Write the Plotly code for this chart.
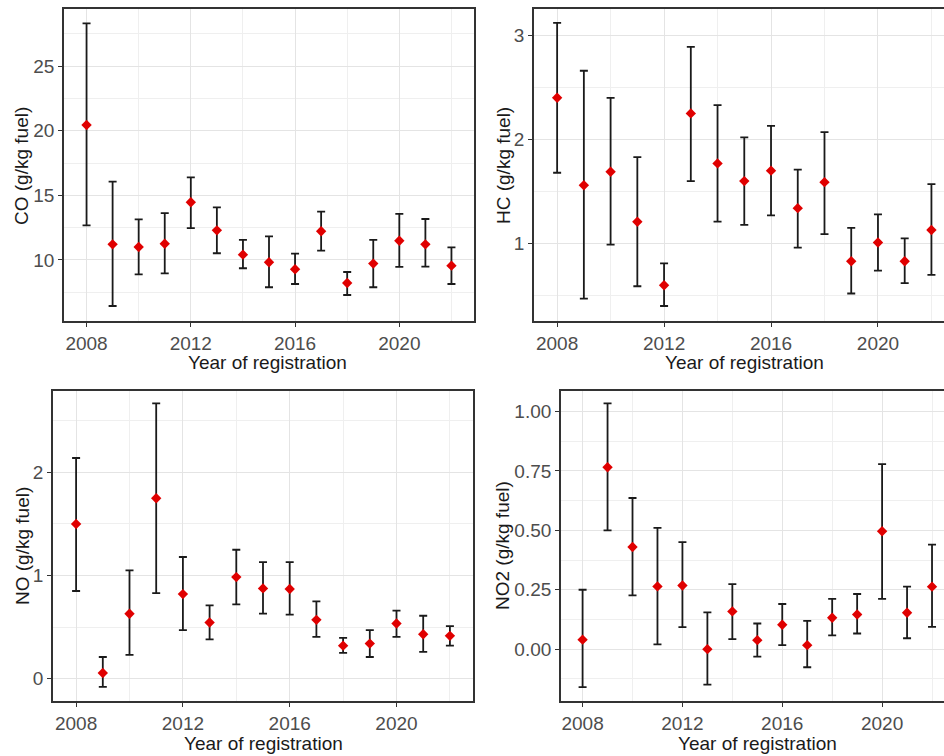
import plotly.graph_objects as go

years = list(range(2008, 2023))

co_mean = [20.44, 11.21, 11.00, 11.26, 14.46, 12.29, 10.41, 9.82, 9.28, 12.22, 8.22, 9.72, 11.49, 11.21, 9.56]
co_up = [28.30, 16.06, 13.14, 13.63, 16.39, 14.07, 11.55, 11.83, 10.49, 13.74, 9.07, 11.55, 13.56, 13.17, 10.98]
co_lo = [12.68, 6.44, 8.89, 8.97, 12.47, 10.52, 9.36, 7.89, 8.14, 10.72, 7.29, 7.89, 9.46, 9.48, 8.14]

hc_mean = [2.40, 1.56, 1.69, 1.21, 0.60, 2.25, 1.77, 1.60, 1.70, 1.34, 1.59, 0.83, 1.01, 0.83, 1.13]
hc_up = [3.12, 2.66, 2.40, 1.83, 0.81, 2.89, 2.33, 2.02, 2.13, 1.71, 2.07, 1.15, 1.28, 1.05, 1.57]
hc_lo = [1.68, 0.47, 0.99, 0.59, 0.40, 1.60, 1.21, 1.18, 1.27, 0.96, 1.09, 0.52, 0.74, 0.62, 0.70]

no_mean = [1.50, 0.055, 0.63, 1.75, 0.82, 0.545, 0.985, 0.875, 0.87, 0.57, 0.32, 0.34, 0.535, 0.43, 0.415]
no_up = [2.14, 0.21, 1.05, 2.67, 1.18, 0.71, 1.25, 1.13, 1.13, 0.75, 0.395, 0.47, 0.66, 0.61, 0.51]
no_lo = [0.85, -0.08, 0.23, 0.83, 0.47, 0.38, 0.72, 0.63, 0.62, 0.405, 0.25, 0.21, 0.405, 0.26, 0.32]

no2_mean = [0.040, 0.765, 0.430, 0.264, 0.268, 0.000, 0.159, 0.038, 0.103, 0.017, 0.132, 0.146, 0.496, 0.153, 0.263]
no2_up = [0.250, 1.034, 0.636, 0.510, 0.450, 0.155, 0.274, 0.108, 0.190, 0.119, 0.212, 0.232, 0.778, 0.263, 0.440]
no2_lo = [-0.160, 0.500, 0.226, 0.020, 0.093, -0.149, 0.042, -0.031, 0.017, -0.076, 0.058, 0.066, 0.212, 0.046, 0.094]

x_title = "Year of registration"
y_titles = ["CO (g/kg fuel)", "HC (g/kg fuel)", "NO (g/kg fuel)", "NO2 (g/kg fuel)"]

W, H = 944, 756
FONT = "Liberation Sans, Arial, sans-serif"

panels = [
    dict(m=co_mean, u=co_up, l=co_lo, xpx=(64, 474), ypx=(9, 321), xr=[2007.135, 2022.865],
         yr=[5.28, 29.41], dt=5, t0=0, fmt="", mdt=2.5, xt=(267, 362), yt=(22, 166)),
    dict(m=hc_mean, u=hc_up, l=hc_lo, xpx=(534, 944), ypx=(9, 321), xr=[2007.135, 2022.47],
         yr=[0.256, 3.253], dt=1, t0=0, fmt="", mdt=0.5, xt=(744, 362), yt=(504, 166)),
    dict(m=no_mean, u=no_up, l=no_lo, xpx=(53, 473), ypx=(391, 701), xr=[2007.135, 2022.865],
         yr=[-0.217, 2.79], dt=1, t0=0, fmt="", mdt=0.5, xt=(263, 743), yt=(22, 546)),
    dict(m=no2_mean, u=no2_up, l=no2_lo, xpx=(561, 944), ypx=(391, 701), xr=[2007.135, 2022.48],
         yr=[-0.218, 1.086], dt=0.25, t0=0, fmt=".2f", mdt=0.125, xt=(757, 743), yt=(502, 546)),
]

fig = go.Figure()
annotations = []
for i, p in enumerate(panels):
    k = "" if i == 0 else str(i + 1)
    xa = "x" + k
    ya = "y" + k
    fig.add_trace(go.Scatter(
        x=years, y=p["m"], mode="markers", xaxis=xa, yaxis=ya,
        marker=dict(symbol="diamond", size=8, color="#E00000", line=dict(width=0)),
        error_y=dict(type="data", symmetric=False,
                     array=[u - m for u, m in zip(p["u"], p["m"])],
                     arrayminus=[m - l for m, l in zip(p["m"], p["l"])],
                     color="#1a1a1a", thickness=1.8, width=4),
        showlegend=False, hoverinfo="skip"))
    right_cut = p["xpx"][1] >= W
    xdom = [p["xpx"][0] / W, min(p["xpx"][1] / W, 1.0)]
    ydom = [(H - p["ypx"][1]) / H, (H - p["ypx"][0]) / H]
    fig.layout["xaxis" + k] = dict(
        domain=xdom, range=p["xr"], anchor=ya, tickmode="linear", tick0=2008, dtick=4,
        showgrid=True, gridcolor="#E4E4E4", gridwidth=1.1,
        minor=dict(tick0=2010, dtick=4, showgrid=True, gridcolor="#EFEFEF", gridwidth=0.9),
        showline=True, linecolor="#333333", linewidth=1.8, mirror=True,
        ticks="outside", ticklen=4, tickwidth=1.2, tickcolor="#333333",
        tickfont=dict(family=FONT, size=19, color="#4D4D4D"), zeroline=False,
        fixedrange=True)
    fig.layout["yaxis" + k] = dict(
        domain=ydom, range=p["yr"], anchor=xa, tickmode="linear", tick0=p["t0"], dtick=p["dt"],
        tickformat=p["fmt"],
        showgrid=True, gridcolor="#E4E4E4", gridwidth=1.1,
        minor=dict(dtick=p["mdt"], showgrid=True, gridcolor="#EFEFEF", gridwidth=0.9),
        showline=True, linecolor="#333333", linewidth=1.8, mirror=(not right_cut),
        ticks="outside", ticklen=4, tickwidth=1.2, tickcolor="#333333",
        tickfont=dict(family=FONT, size=19, color="#4D4D4D"), zeroline=False,
        fixedrange=True)
    annotations.append(dict(text=x_title, xref="paper", yref="paper",
                            x=p["xt"][0] / W, y=(H - p["xt"][1]) / H,
                            xanchor="center", yanchor="middle", showarrow=False,
                            font=dict(family=FONT, size=19, color="#1a1a1a")))
    annotations.append(dict(text=y_titles[i], xref="paper", yref="paper",
                            x=p["yt"][0] / W, y=(H - p["yt"][1]) / H, textangle=-90,
                            xanchor="center", yanchor="middle", showarrow=False,
                            font=dict(family=FONT, size=19, color="#1a1a1a")))

fig.update_layout(width=W, height=H, margin=dict(l=0, r=0, t=0, b=0),
                  paper_bgcolor="white", plot_bgcolor="white",
                  annotations=annotations)
fig.write_html("out.html")
